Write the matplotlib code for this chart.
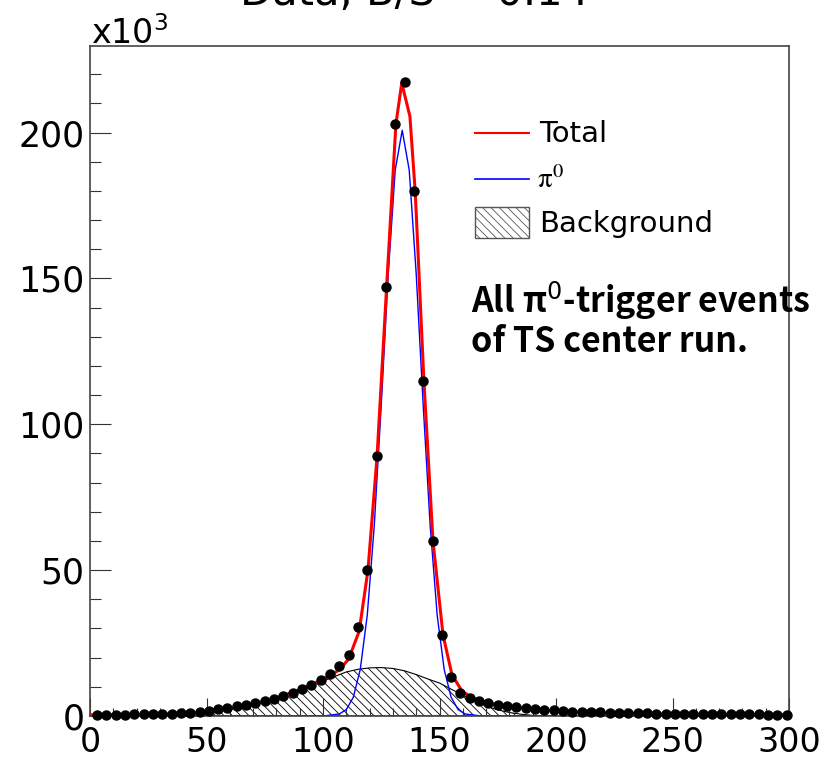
import matplotlib
matplotlib.use("Agg")
import matplotlib.pyplot as plt
import numpy as np
from matplotlib.lines import Line2D
from matplotlib.patches import Rectangle
from matplotlib.ticker import MultipleLocator

# --- data (counts in units of 10^3) ---
# bin centres of the invariant-mass histogram (4 MeV bins)
bin_centers = np.arange(3, 300, 4)
data_counts = [
    0.5, 0.5, 0.5, 0.5, 0.6, 0.6, 0.6, 0.7, 0.8, 0.9,
    1.1, 1.4, 1.8, 2.3, 2.8, 3.3, 3.9, 4.4, 5.0, 5.8,
    6.9, 7.9, 9.3, 10.6, 12.3, 14.4, 17.0, 21.0, 30.5, 50.0,
    89.0, 147.0, 203.0, 217.5, 180.0, 115.0, 60.0, 27.8, 13.5, 7.8,
    6.0, 5.0, 4.4, 3.9, 3.4, 3.0, 2.6, 2.3, 2.1, 1.9,
    1.7, 1.5, 1.4, 1.3, 1.2, 1.1, 1.0, 1.0, 0.9, 0.9,
    0.8, 0.8, 0.8, 0.7, 0.7, 0.7, 0.7, 0.6, 0.6, 0.6,
    0.6, 0.6, 0.5, 0.5, 0.5,
]

# total fit curve (red)
total_x = [0, 20, 40, 50, 60, 70, 80, 90, 100, 107, 111, 115.5, 119.3, 123.2,
           127.3, 131.3, 133.8, 137.3, 139.6, 143.3, 147.2, 151.5, 155.4,
           159.7, 164, 168, 172, 180, 190, 200, 220, 250, 300]
total_y = [0.4, 0.5, 0.9, 1.5, 2.6, 4.0, 6.2, 9.0, 12.6, 15.8, 19.5, 29.0, 50.0,
           89.0, 147.0, 203.0, 217.0, 205.6, 179.5, 115.0, 60.0, 27.8, 14.0,
           8.5, 6.3, 5.0, 4.3, 3.2, 2.3, 1.7, 1.1, 0.7, 0.4]

# pi0 signal curve (blue)
signal_x = [0, 100, 107, 110, 113, 116, 119, 122, 125, 128, 131, 134, 137,
            140, 143, 146, 149, 152, 155, 158, 161, 168, 300]
signal_y = [0, 0, 0.7, 2.2, 6.4, 16.0, 34.6, 65.2, 106.6, 151.6, 187.2, 200.8,
            187.2, 151.6, 106.6, 65.2, 34.6, 16.0, 6.4, 2.2, 0.7, 0, 0]

# background curve (hatched)
bkg_x = [30, 40, 50, 60, 70, 80, 90, 100, 110, 115, 120, 125, 130, 135, 140,
         145, 150, 155, 160, 165, 170, 175, 180, 185, 190, 200]
bkg_y = [0.1, 0.4, 1.1, 2.2, 3.8, 6.0, 8.8, 12.0, 15.1, 16.0, 16.5, 16.6, 16.3,
         15.5, 14.2, 12.7, 11.3, 9.2, 7.2, 5.1, 3.4, 2.1, 1.2, 0.6, 0.2, 0.0]

W, H = 838, 761


def fx(px):
    return px / W


def fy(py):
    return 1 - py / H


plt.rcParams['font.family'] = ['DejaVu Sans']
plt.rcParams['hatch.linewidth'] = 0.6

fig = plt.figure(figsize=(W / 100, H / 100), dpi=100)
ax = fig.add_axes([fx(90), fy(716), (789 - 90) / W, (716 - 46) / H])

# Background hatched area
ax.fill_between(bkg_x, bkg_y, 0, facecolor='white', edgecolor='black',
                hatch='\\\\\\\\', linewidth=0.8, zorder=1)
ax.plot(signal_x, signal_y, color='blue', lw=1.0, zorder=2)
ax.plot(total_x, total_y, color='red', lw=2.2, zorder=3)
ax.plot(bin_centers, data_counts, 'o', color='black', ms=6.5, zorder=5,
        clip_on=False)

ax.set_xlim(0, 300)
ax.set_ylim(0, 229.7)

# ROOT-like axes
ax.xaxis.set_major_locator(MultipleLocator(50))
ax.xaxis.set_minor_locator(MultipleLocator(10))
ax.yaxis.set_major_locator(MultipleLocator(50))
ax.yaxis.set_minor_locator(MultipleLocator(10))
ax.tick_params(which='both', direction='in', top=False, right=False,
               color='#333333', width=0.8)
ax.tick_params(axis='x', which='major', length=13, labelsize=24, pad=7)
ax.tick_params(axis='x', which='minor', length=6)
ax.tick_params(axis='y', which='major', length=15, labelsize=25, pad=4)
ax.tick_params(axis='y', which='minor', length=8)
for sp in ax.spines.values():
    sp.set_linewidth(1.2)
    sp.set_color('#444444')

# exponent label and (cut off) title
fig.text(fx(91), fy(44), 'x10$^{3}$', fontsize=24, va='baseline')
fig.text(fx(240), fy(5), 'Data, B/S = 0.14', fontsize=30, va='baseline')

# Legend
fig.add_artist(Line2D([fx(475), fx(529)], [fy(133), fy(133)], color='red', lw=1.5))
fig.add_artist(Line2D([fx(475), fx(529)], [fy(179), fy(179)], color='blue', lw=1.2))
fig.add_artist(Rectangle((fx(475), fy(238)), 54 / W, 31 / H, facecolor='white',
                         edgecolor='#555555', hatch='\\\\\\\\', lw=1.0))
fig.text(fx(539), fy(142), 'Total', fontsize=21, va='baseline')
fig.text(fx(537), fy(188), r'$\mathrm{\pi}^{0}$', fontsize=21, va='baseline',
         math_fontfamily='stix')
fig.text(fx(539), fy(232), 'Background', fontsize=21, va='baseline')

# annotation
note_font = ['Noto Sans CJK KR', 'DejaVu Sans']
fig.text(fx(471), fy(313), 'All π$^{0}$-trigger events', fontsize=24.5,
         fontweight='bold', family=note_font, va='baseline')
fig.text(fx(471), fy(352), 'of TS center run.', fontsize=24.5,
         fontweight='bold', family=note_font, va='baseline')

fig.savefig('out.png', dpi=100)
